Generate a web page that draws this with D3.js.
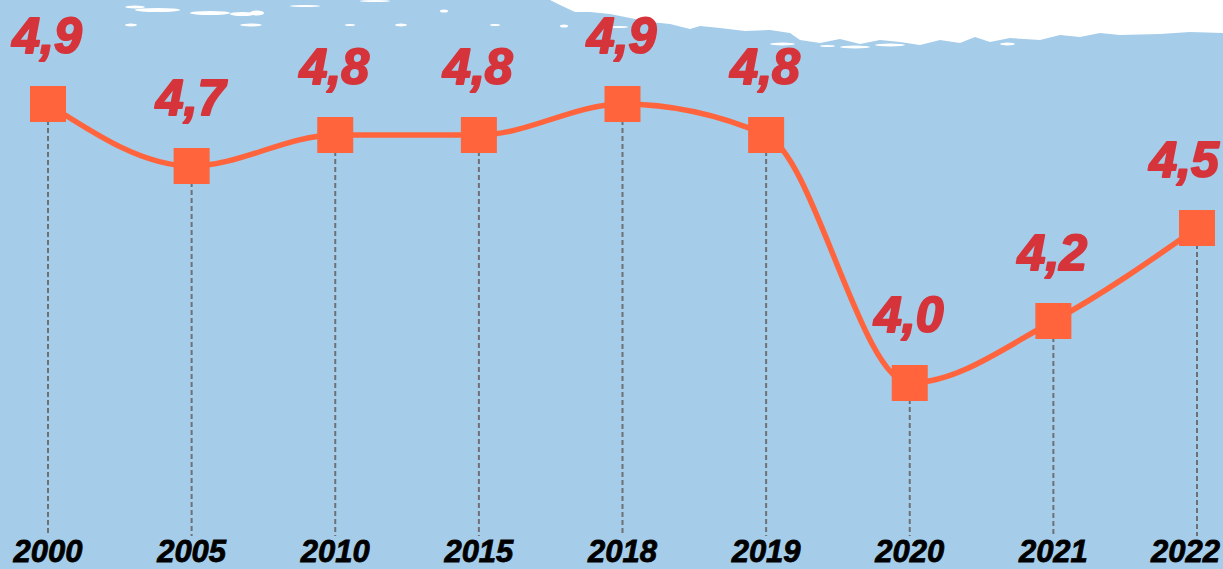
<!DOCTYPE html>
<html>
<head>
<meta charset="utf-8">
<script src="https://cdn.jsdelivr.net/npm/d3@7"></script>
<style>
  html, body { margin: 0; padding: 0; background: #a5cce8; }
  svg { display: block; }
</style>
</head>
<body>
<svg id="chart" width="1223" height="569"></svg>
<script>
// data
const years = ["2000", "2005", "2010", "2015", "2018", "2019", "2020", "2021", "2022"];
const values = [4.9, 4.7, 4.8, 4.8, 4.9, 4.8, 4.0, 4.2, 4.5];

const width = 1223, height = 569;
const svg = d3.select("#chart");

// background
svg.append("rect").attr("width", width).attr("height", height).attr("fill", "#a5cce8");

// white brush stroke at the top (decoration)
const brush = svg.append("g").attr("fill", "#ffffff");
brush.append("path")
  .attr("d", "M550,0 L1223,0 L1223,33 L1190,32 L1160,34 L1120,35 L1100,33 L1080,37 L1060,35 L1040,40 L1010,38 L990,42 L975,37 L960,43 L940,40 L920,45 L900,42 L880,40 L860,44 L840,39 L820,43 L800,40 L790,33 L770,30 L745,31 L720,28 L700,26 L690,29 L670,24 L650,22 L630,18 L610,14 L590,12 L575,12 L560,5 Z");
// scattered specks
const specks = [
  [125, 7, 20, 3], [135, 10, 45, 4], [190, 13, 40, 4], [230, 14, 25, 4], [250, 13, 14, 5],
  [240, 25, 22, 3], [125, 25, 12, 3], [290, 6, 30, 2], [360, 1, 30, 2], [440, 11, 8, 3],
  [345, 25, 10, 2], [395, 25, 12, 3], [490, 25, 10, 2], [560, 26, 8, 3], [610, 27, 18, 2],
  [770, 44, 25, 3], [820, 46, 15, 2], [840, 47, 30, 3], [875, 45, 30, 3], [1000, 44, 15, 3]
];
brush.selectAll("ellipse.speck")
  .data(specks)
  .join("ellipse")
  .attr("class", "speck")
  .attr("cx", d => d[0] + d[2] / 2)
  .attr("cy", d => d[1])
  .attr("rx", d => d[2] / 2)
  .attr("ry", d => d[3] / 2);

// scales
const x = d3.scalePoint().domain(years).range([48, 1197]);
const y = d3.scaleLinear().domain([4.0, 4.9]).range([383, 104]);

const fmt = d3.formatLocale({ decimal: ",", thousands: ".", grouping: [3], currency: ["", ""] }).format(".1f");

const data = years.map((yr, i) => ({ year: yr, value: values[i] }));

// keep a text inside the right edge
function fitRight(sel) {
  sel.each(function() {
    const b = this.getBBox();
    const over = b.x + b.width - (width - 3);
    if (over > 0) d3.select(this).attr("x", +d3.select(this).attr("x") - over);
  });
}

// dashed drop lines
svg.append("g").selectAll("line")
  .data(data)
  .join("line")
  .attr("x1", d => x(d.year))
  .attr("x2", d => x(d.year))
  .attr("y1", d => y(d.value))
  .attr("y2", 536)
  .attr("stroke", "#6f7073")
  .attr("stroke-width", 2)
  .attr("stroke-dasharray", "5,3");

// curve
const line = d3.line()
  .x(d => x(d.year))
  .y(d => y(d.value))
  .curve(d3.curveMonotoneX);
svg.append("path")
  .datum(data)
  .attr("d", line)
  .attr("fill", "none")
  .attr("stroke", "#ff643d")
  .attr("stroke-width", 5.5);

// square markers
const size = 36;
svg.append("g").selectAll("rect")
  .data(data)
  .join("rect")
  .attr("x", d => x(d.year) - size / 2)
  .attr("y", d => y(d.value) - size / 2)
  .attr("width", size)
  .attr("height", size)
  .attr("fill", "#ff643d");

// value labels
svg.append("g").selectAll("text")
  .data(data)
  .join("text")
  .attr("x", d => x(d.year) - 1)
  .attr("y", d => y(d.value) - 51)
  .attr("text-anchor", "middle")
  .attr("font-family", "'Liberation Sans', Arial, sans-serif")
  .attr("font-weight", "bold")
  .attr("font-style", "italic")
  .attr("font-size", 50)
  .attr("fill", "#d6343b")
  .attr("stroke", "#d6343b")
  .attr("stroke-width", 2)
  .attr("stroke-linejoin", "round")
  .text(d => fmt(d.value))
  .call(fitRight);

// year labels
svg.append("g").selectAll("text")
  .data(years)
  .join("text")
  .attr("x", d => x(d))
  .attr("y", 562)
  .attr("text-anchor", "middle")
  .attr("font-family", "'Liberation Sans', Arial, sans-serif")
  .attr("font-weight", "bold")
  .attr("font-style", "italic")
  .attr("font-size", 31)
  .attr("fill", "#000")
  .attr("stroke", "#000")
  .attr("stroke-width", 0.8)
  .text(d => d)
  .call(fitRight);
</script>
</body>
</html>
